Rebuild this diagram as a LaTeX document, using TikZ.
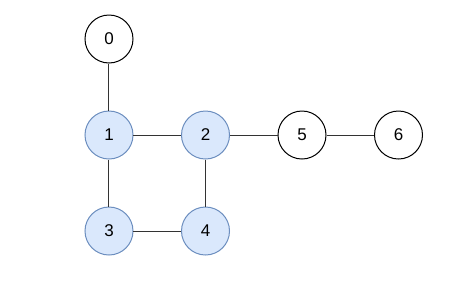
\documentclass[tikz,border=0pt]{standalone}
\usepackage{fontspec}
\setmainfont{Liberation Sans}
\usepackage{xcolor}
\usetikzlibrary{positioning}
\definecolor{vfill}{HTML}{DAE8FC}
\definecolor{vdraw}{HTML}{6C8EBF}

\begin{document}
\begin{tikzpicture}[
  x=1pt, y=1pt,
  node distance=47pt and 47.5pt,
  vert/.style={draw, circle, line width=1pt, minimum size=48pt, inner sep=0pt, font=\fontsize{17}{20}\selectfont},
  seen/.style={vert, fill=vfill, draw=vdraw},
  edge/.style={line width=1pt, draw=black!80}]
  \useasboundingbox (-109,-150) rectangle (352,135);
  % square
  \node[seen] (v1) at (0,0) {1};
  \node[seen, right=of v1] (v2) {2};
  \node[seen, below=of v1] (v3) {3};
  \node[seen, below=of v2] (v4) {4};
  % others
  \node[vert, above=of v1] (v0) {0};
  \node[vert, right=of v2] (v5) {5};
  \node[vert, right=of v5] (v6) {6};
  \draw[edge] (v0) -- (v1);
  \draw[edge] (v1) -- (v2);
  \draw[edge] (v1) -- (v3);
  \draw[edge] (v2) -- (v4);
  \draw[edge] (v3) -- (v4);
  \draw[edge] (v2) -- (v5);
  \draw[edge] (v5) -- (v6);
\end{tikzpicture}
\end{document}
